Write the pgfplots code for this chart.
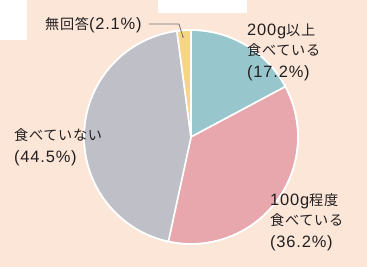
\documentclass[border=0pt]{standalone}
\usepackage{pgfplots}
\usepackage{pgfplotstable}
\pgfplotsset{compat=1.18}
\usepackage{fontspec}
\setmainfont[LetterSpace=5]{Noto Sans CJK JP}
\newfontfamily\latinfont[LetterSpace=5]{Liberation Sans}
\newcommand\Lt[1]{{\fontsize{16.5}{20}\latinfont #1}}
\definecolor{bgpeach}{HTML}{FCE6D8}
\definecolor{cTeal}{HTML}{97C7CD}
\definecolor{cPink}{HTML}{E7A7AC}
\definecolor{cGray}{HTML}{BFBFC7}
\definecolor{cYellow}{HTML}{F6D586}
\definecolor{txt}{HTML}{231F20}
\definecolor{leader}{HTML}{707070}
\pgfplotstableread{
value col
17.2 cTeal
36.2 cPink
44.5 cGray
2.1 cYellow
}\pietable
\begin{document}
\begin{tikzpicture}
\begin{axis}[x=1bp, y=1bp, xmin=0, xmax=367, ymin=0, ymax=267, hide axis, clip=false]
\fill[bgpeach] (axis cs:0,0) rectangle (axis cs:367,267);
\fill[white] (axis cs:0,227) rectangle (axis cs:27,267);
\fill[white] (axis cs:158,254) rectangle (axis cs:247,267);
\def\startang{90}
\pgfplotsforeachungrouped \i in {0,...,3}{%
  \pgfplotstablegetelem{\i}{value}\of\pietable
  \let\v=\pgfplotsretval
  \pgfplotstablegetelem{\i}{col}\of\pietable
  \let\c=\pgfplotsretval
  \pgfmathsetmacro\endang{\startang-3.6*\v}%
  \edef\cmd{\noexpand\fill[fill=\c, draw=white, line width=1.6bp, line join=round] (axis cs:191,130) -- ++(\startang:107bp) arc[start angle=\startang, end angle=\endang, radius=107bp] -- cycle;}%
  \cmd
  \global\let\startang\endang
}
\draw[white, line width=1.6bp] (axis cs:191,130) circle[radius=107bp];
\draw[leader, line width=0.8bp] (axis cs:149,243) -- (axis cs:179,243) -- (axis cs:183,230);
\fill[leader] (axis cs:183,230) circle[radius=0.9bp];
\begin{scope}[every node/.style={anchor=base west, inner sep=0pt, text=txt, font=\fontsize{14.2}{17}\selectfont}]
\node at (axis cs:247,232) {\Lt{200g}以上};
\node at (axis cs:247,212) {食べている};
\node at (axis cs:247,189.5) {\Lt{(17.2\%)}};
\node at (axis cs:270,61.3) {\Lt{100g}程度};
\node at (axis cs:270,41.5) {食べている};
\node at (axis cs:270,19.7) {\Lt{(36.2\%)}};
\node at (axis cs:14,126.5) {食べていない};
\node at (axis cs:14,104.7) {\Lt{(44.5\%)}};
\node at (axis cs:45,238) {無回答\Lt{(2.1\%)}};
\end{scope}
\end{axis}
\end{tikzpicture}
\end{document}
